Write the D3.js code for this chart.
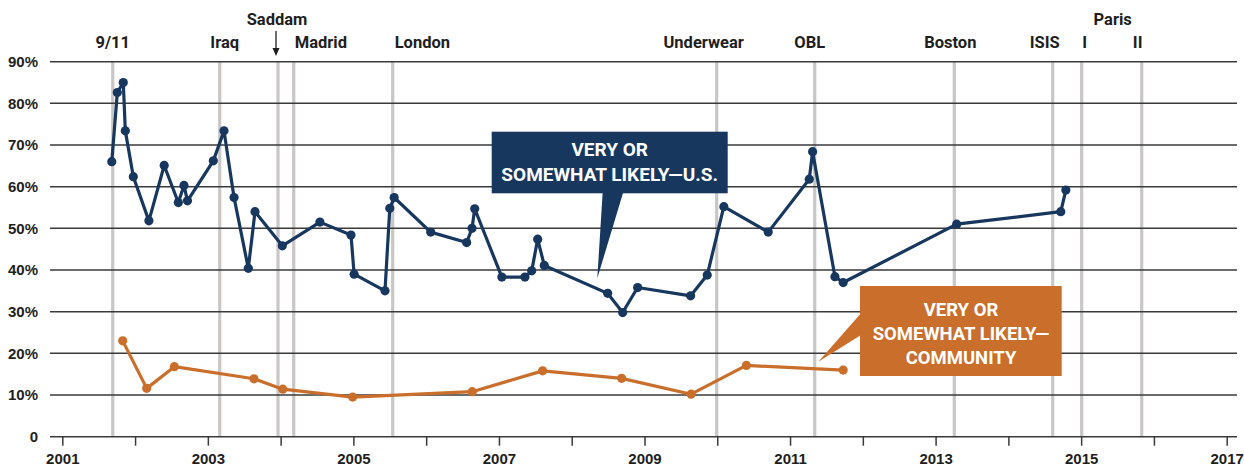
<!DOCTYPE html>
<html>
<head>
<meta charset="utf-8">
<script src="https://cdn.jsdelivr.net/npm/d3@7"></script>
<style>
  body { margin: 0; background: #fff; }
  svg { display: block; font-family: Roboto, "Liberation Sans", sans-serif; font-weight: 700; }
  .axis text { font-size: 15px; font-weight: 700; fill: #1e1e1e; }
  .axis line, .axis path { stroke: #3a3a3a; stroke-width: 1.5; }
  .event-label { font-size: 16.5px; fill: #1e1e1e; }
  .callout text { fill: #fff; font-weight: 700; }
</style>
</head>
<body>
<svg id="chart"></svg>
<script>
const width = 1244,
      height = 468,
      plot = {left: 50, right: 1237, top: 61.7, bottom: 436.7},
      blue = "#17375e",
      orange = "#c96e2b";

// Years as decimal values
const usDates = [2001.68, 2001.756, 2001.838, 2001.866, 2001.976, 2002.19, 2002.40, 2002.594, 2002.672, 2002.72,
                 2003.075, 2003.222, 2003.36, 2003.556, 2003.648, 2004.023, 2004.54, 2004.967, 2005.01, 2005.434,
                 2005.50, 2005.56, 2006.062, 2006.556, 2006.63, 2006.667, 2007.04, 2007.357, 2007.45, 2007.532,
                 2007.623, 2008.494, 2008.70, 2008.906, 2009.634, 2009.862, 2010.09, 2010.70, 2011.264, 2011.31,
                 2011.617, 2011.73, 2013.29, 2014.72, 2014.79];
const usValues = [66.0, 82.6, 85.0, 73.4, 62.4, 51.8, 65.1, 56.2, 60.3, 56.6,
                  66.2, 73.4, 57.4, 40.4, 54.0, 45.8, 51.5, 48.4, 39.0, 35.0,
                  54.8, 57.4, 49.1, 46.6, 50.0, 54.7, 38.3, 38.3, 39.8, 47.4,
                  41.1, 34.4, 29.8, 35.8, 33.8, 38.8, 55.2, 49.1, 61.8, 68.4,
                  38.4, 37.0, 51.0, 54.0, 59.2];

const communityDates = [2001.83, 2002.16, 2002.54, 2003.634, 2004.03, 2004.99, 2006.633, 2007.6, 2008.686, 2009.64, 2010.40, 2011.73];
const communityValues = [23.0, 11.6, 16.8, 13.9, 11.4, 9.5, 10.8, 15.8, 14.0, 10.2, 17.1, 16.0];

// Event markers
const eventNames = ["9/11", "Iraq", "Saddam", "Madrid", "London", "Underwear", "OBL", "Boston", "ISIS", "I", "II"];
const eventDates = [2001.693, 2003.163, 2003.964, 2004.18, 2005.54, 2009.992, 2011.339, 2013.257, 2014.609, 2015.007, 2015.832];

const yTicks = [0, 10, 20, 30, 40, 50, 60, 70, 80, 90];
const xTicks = d3.range(2001, 2018);

// Label placement for event names (offset from line, anchor, row)
const eventLabelLayout = {
  "9/11": {dx: 0}, "Iraq": {dx: 5}, "Saddam": {dx: -1, top: true}, "Madrid": {dx: 1, anchor: "start"},
  "London": {dx: 2, anchor: "start"}, "Underwear": {dx: -13}, "OBL": {dx: -5}, "Boston": {dx: -4},
  "ISIS": {dx: -8}, "I": {dx: 3}, "II": {dx: -4}
};

const x = d3.scaleLinear()
            .domain([2001, 2017])
            .range([62.3, 1226.7]);

const y = d3.scaleLinear()
            .domain([0, 90])
            .range([plot.bottom, plot.top]);

const svg = d3.select("#chart")
              .attr("width", width)
              .attr("height", height);

// Event lines
svg.append("g")
   .selectAll("line")
   .data(eventDates)
   .enter().append("line")
   .attr("x1", (d) => x(d))
   .attr("x2", (d) => x(d))
   .attr("y1", plot.top)
   .attr("y2", plot.bottom)
   .style("stroke", "#c9c6c6")
   .style("stroke-width", 3.2);

// Grid lines
svg.append("g")
   .selectAll("line")
   .data(yTicks)
   .enter().append("line")
   .attr("x1", plot.left)
   .attr("x2", plot.right)
   .attr("y1", (d) => y(d))
   .attr("y2", (d) => y(d))
   .style("stroke", "#3a3a3a")
   .style("stroke-width", 1.5);

// y-Axis labels
let yAxis = d3.axisLeft(y)
              .tickValues(yTicks)
              .tickSize(0)
              .tickPadding(0)
              .tickFormat((d) => d === 0 ? "0" : d + "%");

svg.append("g")
   .attr("class", "axis")
   .attr("transform", "translate(38,0)")
   .call(yAxis)
   .call((g) => g.select(".domain").remove());

// x-Axis
let xAxis = d3.axisBottom(x)
              .tickValues(xTicks)
              .tickSize(9)
              .tickPadding(8)
              .tickFormat((d) => d % 2 === 1 ? d : "");

svg.append("g")
   .attr("class", "axis")
   .attr("transform", "translate(0," + plot.bottom + ")")
   .call(xAxis)
   .call((g) => g.select(".domain").remove());

// Event labels
svg.append("g")
   .selectAll("text")
   .data(eventNames)
   .enter().append("text")
   .attr("class", "event-label")
   .attr("x", (d, i) => x(eventDates[i]) + eventLabelLayout[d].dx)
   .attr("y", (d) => eventLabelLayout[d].top ? 25 : 47.7)
   .style("text-anchor", (d) => eventLabelLayout[d].anchor || "middle")
   .text((d) => d);

svg.append("text")
   .attr("class", "event-label")
   .attr("x", (x(eventDates[9]) + x(eventDates[10])) / 2 + 1)
   .attr("y", 25)
   .style("text-anchor", "middle")
   .text("Paris");

// Saddam arrow
const saddamX = x(eventDates[2]) - 2;
svg.append("line")
   .attr("x1", saddamX).attr("x2", saddamX)
   .attr("y1", 31).attr("y2", 50)
   .style("stroke", "#1e1e1e")
   .style("stroke-width", 1.3);
svg.append("path")
   .attr("d", "M" + (saddamX - 3.5) + ",48 L" + (saddamX + 3.5) + ",48 L" + saddamX + ",56 Z")
   .style("fill", "#1e1e1e");

// Series lines
const line = d3.line()
               .x((d) => x(d[0]))
               .y((d) => y(d[1]));

function drawSeries(dates, values, color) {
  const pts = dates.map((d, i) => [d, values[i]]);
  svg.append("path")
     .datum(pts)
     .attr("d", line)
     .style("fill", "none")
     .style("stroke", color)
     .style("stroke-width", 3.2)
     .style("stroke-linejoin", "round");
  svg.append("g")
     .selectAll("circle")
     .data(pts)
     .enter().append("circle")
     .attr("cx", (d) => x(d[0]))
     .attr("cy", (d) => y(d[1]))
     .attr("r", 4.6)
     .style("fill", color);
}

drawSeries(communityDates, communityValues, orange);
drawSeries(usDates, usValues, blue);

// U.S. callout
const usCallout = svg.append("g").attr("class", "callout");
usCallout.append("path")
         .attr("d", "M602.7,192 L623.3,192 L597.3,278.3 Z")
         .style("fill", blue);
usCallout.append("rect")
         .attr("x", 491.7).attr("y", 131.7)
         .attr("width", 236).attr("height", 61.6)
         .style("fill", blue);
usCallout.selectAll("text")
         .data(["VERY OR", "SOMEWHAT LIKELY\u2014U.S."])
         .enter().append("text")
         .attr("x", 609.7)
         .attr("y", (d, i) => 156.3 + i * 24.4)
         .style("text-anchor", "middle")
         .style("font-size", "19px")
         .text((d) => d);

// Community callout
const comCallout = svg.append("g").attr("class", "callout");
comCallout.append("path")
          .attr("d", "M861,313.3 L861,335 L818.3,361.7 Z")
          .style("fill", orange);
comCallout.append("rect")
          .attr("x", 860).attr("y", 286)
          .attr("width", 201.7).attr("height", 90)
          .style("fill", orange);
comCallout.selectAll("text")
          .data(["VERY OR", "SOMEWHAT LIKELY\u2014", "COMMUNITY"])
          .enter().append("text")
          .attr("x", 961)
          .attr("y", (d, i) => 315.5 + i * 24.2)
          .style("text-anchor", "middle")
          .style("font-size", "18.5px")
          .text((d) => d);
</script>
</body>
</html>
